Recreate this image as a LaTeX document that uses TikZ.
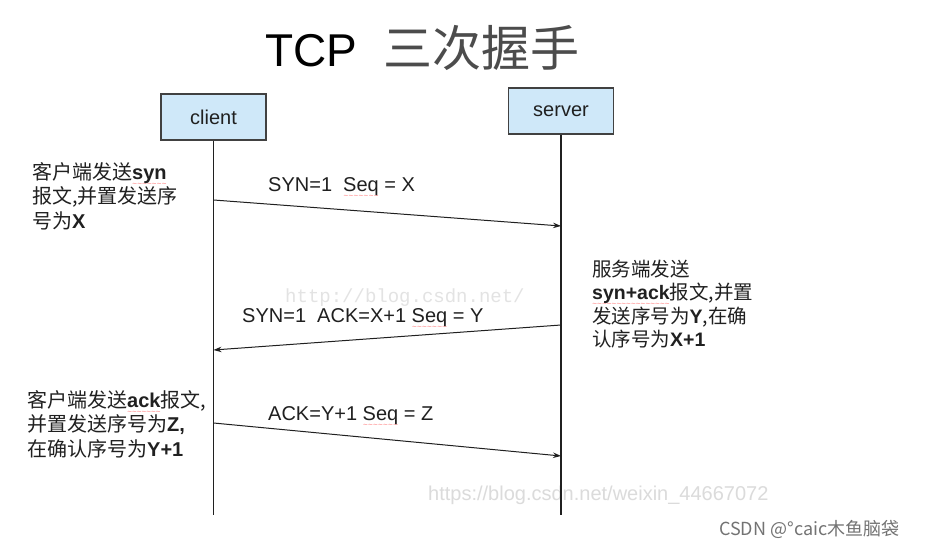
\documentclass[tikz,border=0pt]{standalone}
\usepackage{fontspec}
\setmainfont{Liberation Sans}
\newfontfamily\cjk{Noto Sans CJK SC}
\newfontfamily\wmmono{Liberation Mono}
\usetikzlibrary{arrows.meta}
\definecolor{boxblue}{HTML}{CFE8F9}
\definecolor{ink}{HTML}{202020}
\newsavebox\wavebox
\newcommand\rwave[1]{\sbox\wavebox{#1}\rlap{\raisebox{-7pt}{\textcolor{red!50}{\fontsize{8}{8}\selectfont\mdseries\hbox to\wd\wavebox{\xleaders\hbox{\string~}\hfill}}}}#1}
\begin{document}
\begin{tikzpicture}[x=1pt,y=-1pt,
  actor/.style={draw=ink!85, fill=boxblue, line width=1.2pt, minimum width=105pt, minimum height=46pt, inner sep=0pt, font=\fontsize{20}{24}\selectfont, text=ink},
  life/.style={draw=ink, line width=1.3pt},
  msg/.style={draw=ink, line width=1pt, -{Stealth[length=8pt,width=5.5pt]}},
  lbl/.style={anchor=base west, inner sep=0pt, font=\fontsize{20}{24}\selectfont, text=ink},
  note/.style={anchor=north west, inner sep=0pt, align=left, font=\fontsize{20}{24.5}\selectfont, text=ink},
  wm/.style={anchor=base west, inner sep=0pt}]
\useasboundingbox[fill=white] (0,0) rectangle (928,545);

% title
\node[wm, font=\fontsize{46}{52}\selectfont, text=black] (title) at (265,67) {TCP\hspace{26pt}{\cjk\fontsize{49}{52}\selectfont\color{black!70}三次握手}};

% watermarks (under the lines)
\node[wm, font=\wmmono\fontsize{19}{20}\selectfont, text=gray!22] (w1) at (285,302) {http://blog.csdn.net/};
\node[wm, font=\fontsize{20}{22}\selectfont, text=gray!28] (w2) at (428,500) {https://blog.csdn.net/weixin\_44667072};
\node[wm, font=\cjk\fontsize{18}{20}\selectfont, text=black!55] (w3) at (719,535) {CSDN @°caic木鱼脑袋};

% actors
\node[actor] (client) at (213.5,117) {client};
\node[actor] (server) at (561,111) {server};
\coordinate (cend) at (213.5,515);
\coordinate (send) at (561,515);
\draw[life] (client.south) -- (cend);
\draw[life] (server.south) -- (send);

% messages
\draw[msg] (client.south |- 0,200) -- (server.south |- 0,226);
\draw[msg] (server.south |- 0,325) -- (client.south |- 0,350);
\draw[msg] (client.south |- 0,423) -- (server.south |- 0,456);

\node[lbl] (l1) at (268,192) {SYN=1\ \ \rwave{Seq} = X};
\node[lbl] (l2) at (242,322) {SYN=1\ \ ACK=X+1 \rwave{Seq} = Y};
\node[lbl] (l3) at (268,420) {ACK=Y+1 \rwave{Seq} = Z};

% notes
\node[note] (n1) at (32,162) {{\cjk 客户端发送}\textbf{\rwave{syn}}\\{\cjk 报文,并置发送序}\\{\cjk 号为}\textbf{X}};
\node[note, font=\fontsize{19.5}{22.5}\selectfont] (n2) at (592,260) {{\cjk 服务端发送}\\\textbf{\rwave{syn+ack}}{\cjk 报文,并置}\\{\cjk 发送序号为}\textbf{Y}{\cjk ,在确}\\{\cjk 认序号为}\textbf{X+1}};
\node[note] (n3) at (27,390) {{\cjk 客户端发送}\textbf{\rwave{ack}}{\cjk 报文,}\\{\cjk 并置发送序号为}\textbf{Z,}\\{\cjk 在确认序号为}\textbf{Y+1}};
\end{tikzpicture}
\end{document}
